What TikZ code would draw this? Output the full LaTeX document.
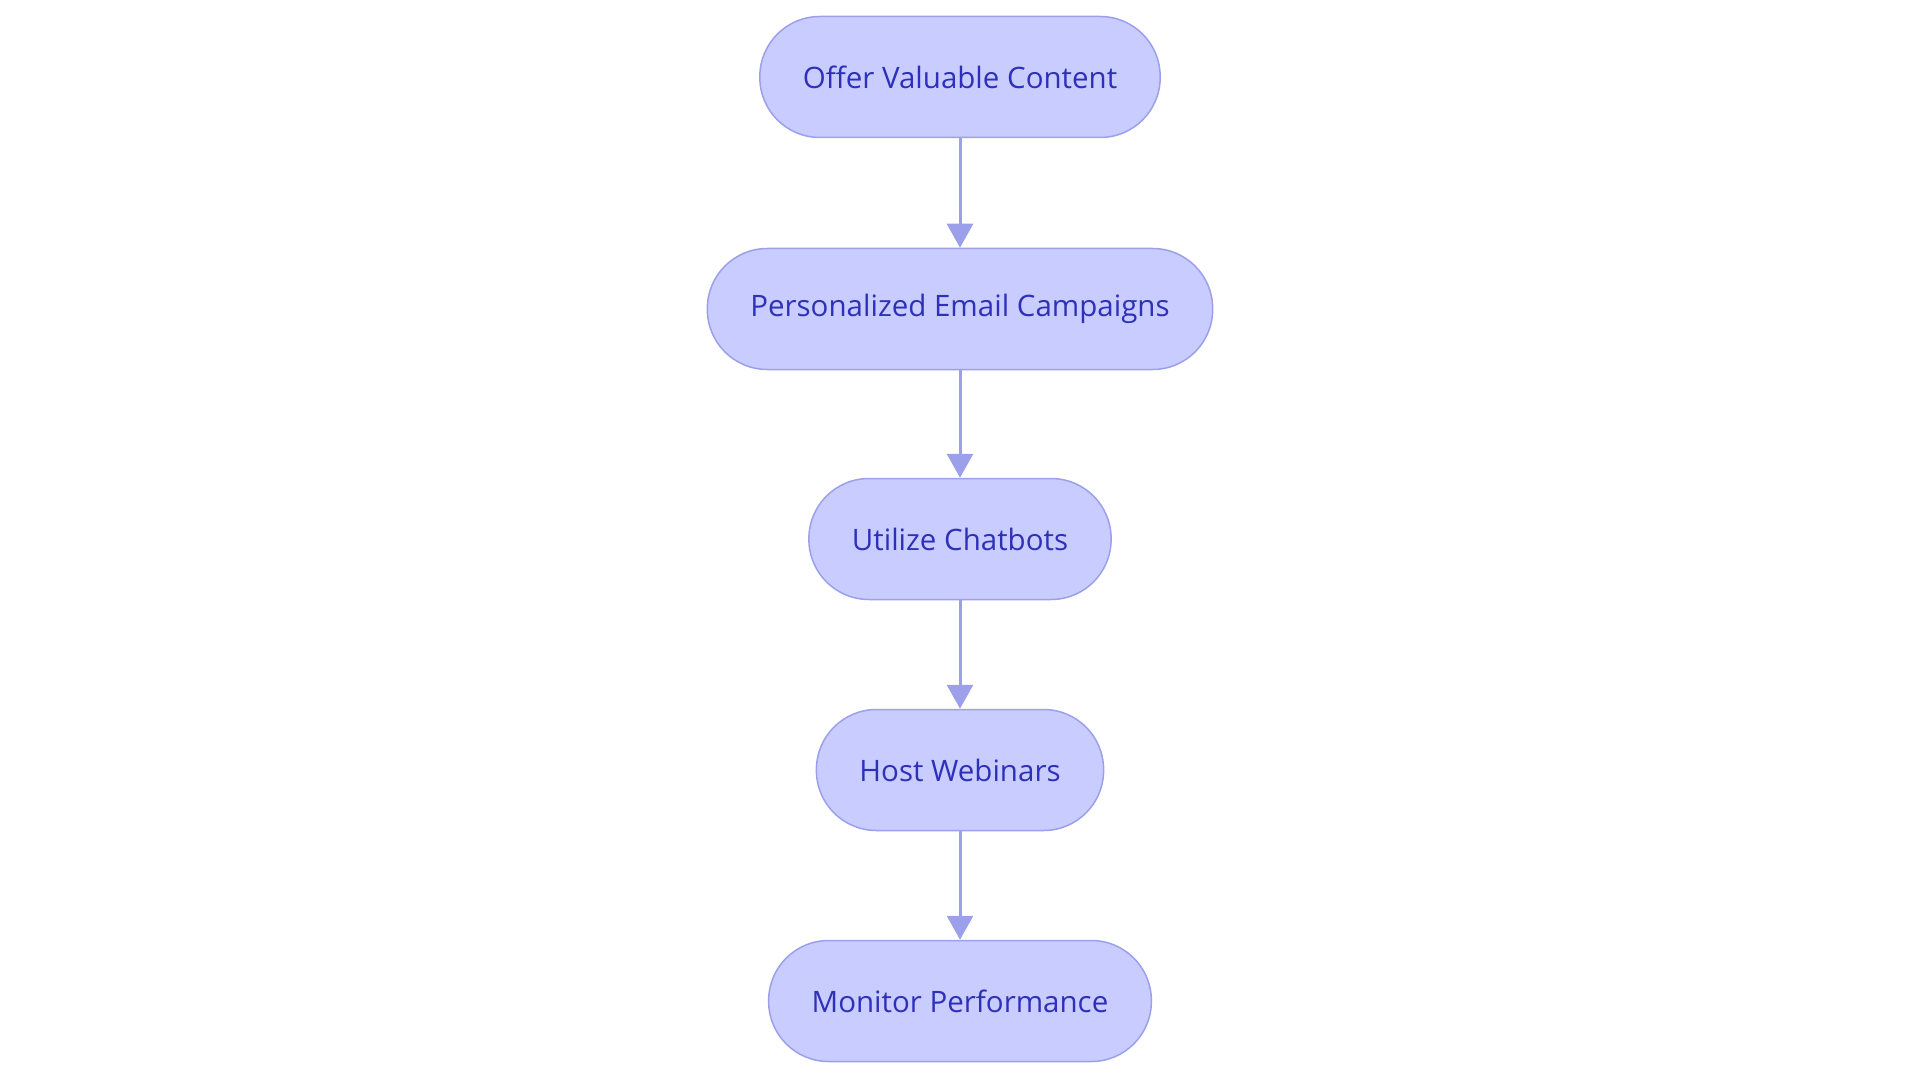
\documentclass[tikz,border=0pt]{standalone}
\usepackage{fontspec}
\setmainfont{Open Sans}
\usetikzlibrary{arrows.meta}
\definecolor{boxfill}{RGB}{200,204,255}
\definecolor{boxline}{RGB}{156,160,234}
\definecolor{boxtext}{RGB}{46,49,184}
\tikzset{
	stadium/.style={draw=boxline, fill=boxfill, line width=1.5pt, rounded corners=60pt,
		minimum height=121pt, inner xsep=43pt, text=boxtext, font=\fontsize{29.5}{34}\selectfont},
	flow/.style={draw=boxline, line width=3pt, -{Triangle[length=24pt,width=26pt]}}
}
\begin{document}
\begin{tikzpicture}[x=1pt,y=-1pt]
	\useasboundingbox (0,0) rectangle (1920,1083);
	\node[stadium] (0) at (960, 77) {Offer Valuable Content};
	\node[stadium] (1) at (960, 309) {Personalized Email Campaigns};
	\node[stadium] (2) at (960, 539) {Utilize Chatbots};
	\node[stadium] (3) at (960, 770) {Host Webinars};
	\node[stadium] (4) at (960, 1001) {Monitor Performance};
	\draw [flow] (0) to (1);
	\draw [flow] (1) to (2);
	\draw [flow] (2) to (3);
	\draw [flow] (3) to (4);
\end{tikzpicture}
\end{document}
